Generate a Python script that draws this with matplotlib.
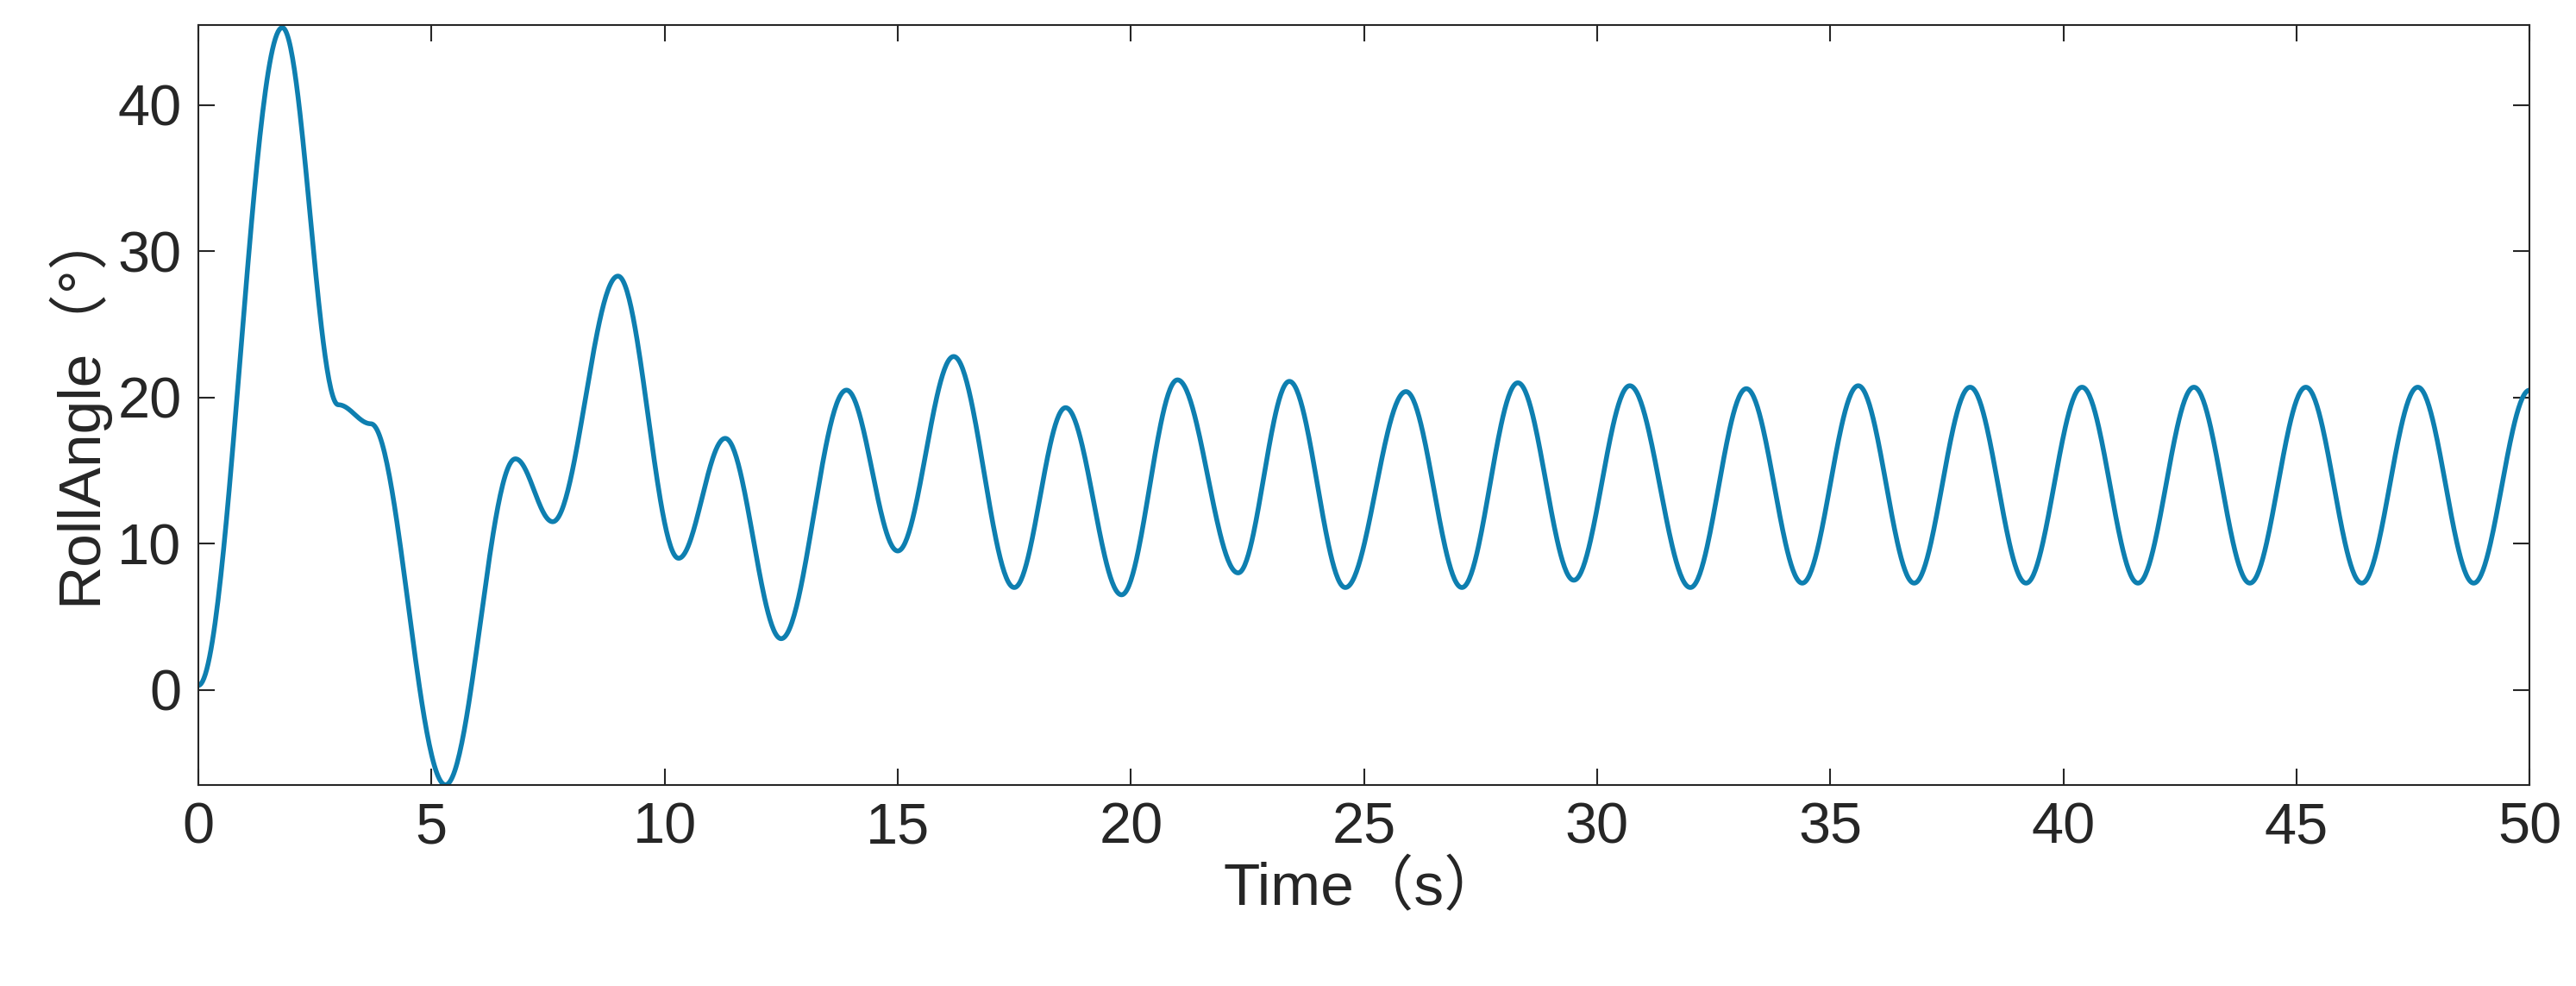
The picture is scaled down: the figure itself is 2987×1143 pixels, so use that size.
import numpy as np
import matplotlib
matplotlib.use("Agg")
import matplotlib.pyplot as plt

ext_t = [0, 1.8, 3.0, 3.7, 5.3, 6.8, 7.6, 9.0, 10.3, 11.3, 12.5, 13.9, 15.0, 16.2, 17.5, 18.6, 19.8,
         21.0, 22.3, 23.4, 24.6, 25.9, 27.1, 28.3, 29.5, 30.7, 32.0, 33.2, 34.4, 35.6, 36.8,
         38.0, 39.2, 40.4, 41.6, 42.8, 44.0, 45.2, 46.4, 47.6, 48.8, 50.0]
ext_v = [0.3, 45.3, 19.5, 18.2, -6.5, 15.8, 11.5, 28.3, 9.0, 17.2, 3.5, 20.5, 9.5, 22.8, 7.0, 19.3, 6.5,
         21.2, 8.0, 21.1, 7.0, 20.4, 7.0, 21.0, 7.5, 20.8, 7.0, 20.6, 7.3, 20.8, 7.3,
         20.7, 7.3, 20.7, 7.3, 20.7, 7.3, 20.7, 7.3, 20.7, 7.3, 20.5]
x_ticks = [0, 5, 10, 15, 20, 25, 30, 35, 40, 45, 50]
y_ticks = [0, 10, 20, 30, 40]

ts, vs = [], []
for i in range(len(ext_t) - 1):
    s = np.linspace(0, 1, 60, endpoint=False)
    w = (1 - np.cos(np.pi * s)) / 2
    ts.append(ext_t[i] + (ext_t[i+1] - ext_t[i]) * s)
    vs.append(ext_v[i] + (ext_v[i+1] - ext_v[i]) * w)
ts.append([ext_t[-1]]); vs.append([ext_v[-1]])
t = np.concatenate(ts); v = np.concatenate(vs)

plt.rcParams['font.family'] = ['Liberation Sans', 'Noto Sans CJK SC']
fig = plt.figure(figsize=(29.87, 11.43), dpi=100)
ax = fig.add_axes([0.077, 0.204, 0.905, 0.771])
ax.plot(t, v, color='#0e7fb0', lw=4)
ax.set_xlim(0, 50); ax.set_ylim(-6.5, 45.5)
ax.set_xticks(x_ticks); ax.set_yticks(y_ticks)
ax.tick_params(direction='in', length=14, width=1.5, labelsize=48, colors='#262626',
               top=True, right=True, pad=14)
for sp in ax.spines.values():
    sp.set_linewidth(1.5); sp.set_color('#262626')
ax.set_xlabel('Time（s）', fontsize=50, color='#262626', labelpad=4)
ax.set_ylabel('RollAngle（°）', fontsize=50, color='#262626', labelpad=8)
fig.savefig('out.png')
